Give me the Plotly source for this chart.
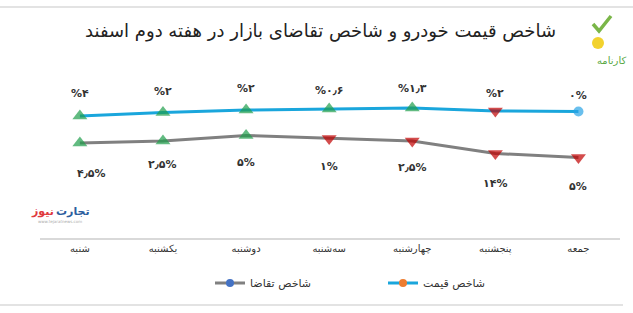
import plotly.graph_objects as go

# ---------------- data ----------------
days = ["شنبه", "یکشنبه", "دوشنبه", "سه\u200cشنبه", "چهارشنبه", "پنجشنبه", "جمعه"]
price_index = [122, 125.5, 128, 129, 130, 127, 126.5]      # شاخص قیمت (relative level)
demand_index = [95, 97, 102.5, 99.5, 97, 84.5, 80.5]         # شاخص تقاضا (relative level)
price_dir = ["up", "up", "up", "up", "up", "down", "flat"]
demand_dir = ["up", "up", "up", "down", "down", "down", "down"]
price_labels = ["%۴", "%۲", "%۲", "%۰٫۶", "%۱٫۳", "%۲", "۰%"]
demand_labels = ["۴٫۵%", "۲٫۵%", "۵%", "۱%", "۲٫۵%", "۱۴%", "۵%"]
title_text = "شاخص قیمت خودرو و شاخص تقاضای بازار در هفته دوم اسفند"
legend_names = ["شاخص تقاضا", "شاخص قیمت"]

# ---------------- style ----------------
W, H = 633, 313
L, R, T, B = 40, 13, 60, 75
PW, PH = W - L - R, H - T - B
FONT = "DejaVu Sans"
GREEN, RED = "#1f9e4b", "#c00000"
BLUE_LINE, GRAY_LINE = "#1aa6dc", "#808080"
sym_map = {"up": "triangle-up", "down": "triangle-down", "flat": "circle"}
col_map = {"up": GREEN, "down": RED, "flat": "#2aa4e6"}
size_map = {"up": 13, "down": 13, "flat": 10}
price_shift = [23, 21.5, 22, 19, 20, 18, 16.5]
demand_shift = [-30, -23, -26.5, -27.5, -26, -29.5, -28.5]
demand_xshift = [12, 0, 0, 0, 0, 0, 0]


def px(x):
    return (x - L) / PW


def py(y):
    return (H - B - y) / PH


xs = list(range(len(days)))
fig = go.Figure()

fig.add_trace(go.Scatter(
    x=xs, y=demand_index, mode="lines+markers", showlegend=False,
    line=dict(color=GRAY_LINE, width=3),
    marker=dict(symbol=[sym_map[d] for d in demand_dir],
                color=[col_map[d] for d in demand_dir],
                size=[size_map[d] for d in demand_dir], line=dict(width=0)),
    hoverinfo="skip"))
fig.add_trace(go.Scatter(
    x=xs, y=price_index, mode="lines+markers", showlegend=False,
    line=dict(color=BLUE_LINE, width=3),
    marker=dict(symbol=[sym_map[d] for d in price_dir],
                color=[col_map[d] for d in price_dir],
                size=[size_map[d] for d in price_dir], line=dict(width=0)),
    hoverinfo="skip"))

# legend-only entries
fig.add_trace(go.Scatter(x=[None], y=[None], mode="lines+markers", name=legend_names[0],
                         line=dict(color=GRAY_LINE, width=3),
                         marker=dict(color="#4472c4", size=8)))
fig.add_trace(go.Scatter(x=[None], y=[None], mode="lines+markers", name=legend_names[1],
                         line=dict(color=BLUE_LINE, width=3),
                         marker=dict(color="#ed7d31", size=8)))

LBL = dict(family=FONT, size=11, color="#333333")
ann = []
for i, (v, t) in enumerate(zip(price_index, price_labels)):
    ann.append(dict(x=i, y=v, xref="x", yref="y", text=f"<b>{t}</b>", showarrow=False,
                    yshift=price_shift[i], font=LBL))
for i, (v, t) in enumerate(zip(demand_index, demand_labels)):
    ann.append(dict(x=i, y=v, xref="x", yref="y", text=f"<b>{t}</b>", showarrow=False,
                    yshift=demand_shift[i], xshift=demand_xshift[i], font=LBL))

# title
ann.append(dict(x=px(320), y=py(31), xref="paper", yref="paper", text=title_text,
                showarrow=False, font=dict(family=FONT, size=18, color="#222222"),
                xanchor="center", yanchor="middle"))
# logo text
ann.append(dict(x=px(611), y=py(60), xref="paper", yref="paper", text="کارنامه",
                showarrow=False, font=dict(family=FONT, size=10, color="#5aa845"),
                xanchor="center", yanchor="middle"))
# watermark
ann.append(dict(x=px(42), y=py(211), xref="paper", yref="paper", text="<b>نیوز</b>",
                showarrow=False, font=dict(family=FONT, size=11, color="#e0393e"),
                xanchor="center", yanchor="middle"))
ann.append(dict(x=px(73), y=py(211), xref="paper", yref="paper", text="<b>تجارت</b>",
                showarrow=False, font=dict(family=FONT, size=11, color="#2c5d9e"),
                xanchor="center", yanchor="middle"))
ann.append(dict(x=px(60), y=py(221), xref="paper", yref="paper", text="www.tejaratnews.com",
                showarrow=False, font=dict(family=FONT, size=4, color="#aaaaaa"),
                xanchor="center", yanchor="middle"))

shapes = [
    dict(type="line", xref="paper", yref="paper", x0=px(0), x1=px(633), y0=py(7), y1=py(7),
         line=dict(color="#e3e3e3", width=2)),
    dict(type="line", xref="paper", yref="paper", x0=px(0), x1=px(623), y0=py(305), y1=py(305),
         line=dict(color="#e3e3e3", width=2)),
    dict(type="path", xref="paper", yref="paper",
         path=f"M{px(593)},{py(24)} L{px(599)},{py(31)} L{px(611)},{py(16)}",
         line=dict(color="#7ab648", width=3.5)),
    dict(type="circle", xref="paper", yref="paper", x0=px(592), x1=px(604), y0=py(37), y1=py(49),
         fillcolor="#f2d22e", line=dict(width=0)),
]

fig.update_layout(
    width=W, height=H, margin=dict(l=L, r=R, t=T, b=B),
    paper_bgcolor="white", plot_bgcolor="white",
    xaxis=dict(range=[-0.48, 6.5], tickmode="array", tickvals=xs, ticktext=days,
               showgrid=False, zeroline=False, showline=True, linecolor="#d9d9d9", linewidth=1.5,
               ticks="", tickfont=dict(family=FONT, size=10, color="#333333"), fixedrange=True),
    yaxis=dict(range=[0, PH], visible=False, fixedrange=True),
    legend=dict(orientation="h", x=px(210), y=py(283), xanchor="left", yanchor="middle",
                font=dict(family=FONT, size=11, color="#333333"), itemwidth=30,
                entrywidth=128, entrywidthmode="pixels"),
    annotations=ann, shapes=shapes,
    showlegend=True,
)

fig.write_html("out.html", config={"displayModeBar": False})
